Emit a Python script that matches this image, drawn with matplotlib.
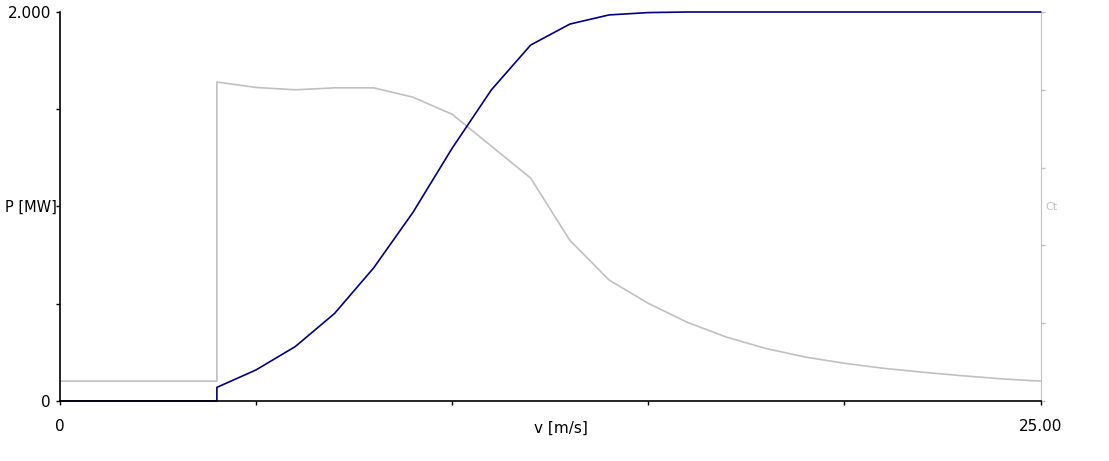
import matplotlib.pyplot as plt

# wind speed [m/s]
wind_speed = [0, 1, 2, 3, 4, 4, 5, 6, 7, 8, 9, 10, 11, 12, 13, 14, 15, 16, 17,
              18, 19, 20, 21, 22, 23, 24, 25]
# power [kW]
power = [0, 0, 0, 0, 0, 70, 160, 280, 450, 685, 970, 1300, 1600, 1830, 1938,
         1985, 1997, 2000, 2000, 2000, 2000, 2000, 2000, 2000, 2000, 2000, 2000]
# thrust coefficient
ct = [0.051, 0.051, 0.051, 0.051, 0.051, 0.82, 0.806, 0.80, 0.805, 0.805,
      0.781, 0.737, 0.655, 0.573, 0.413, 0.311, 0.251, 0.202, 0.164, 0.135,
      0.113, 0.097, 0.084, 0.074, 0.065, 0.057, 0.051]

W, H = 1109, 461
fig = plt.figure(figsize=(W / 100, H / 100), dpi=100)
ax = fig.add_axes([60 / W, (H - 401) / H, (1040.5 - 60) / W, 389 / H])
ax2 = ax.twinx()
ax.set_zorder(ax2.get_zorder() + 1)
ax.patch.set_visible(False)

grey = '#c0c0c0'
navy = '#000080'

ax2.plot(wind_speed, ct, color=grey, lw=1.2)
ax.plot(wind_speed, power, color=navy, lw=1.2, clip_on=False)

ax.set_xlim(0, 25)
ax.set_ylim(0, 2000)
ax2.set_ylim(0, 1)

ax.set_xticks([0, 5, 10, 15, 20, 25])
ax.set_xticklabels(['0', '', '', '', '', '25.00'])
ax.set_yticks([0, 500, 1000, 1500, 2000])
ax.set_yticklabels(['0', '', '', '', '2.000'])
ax.tick_params(axis='both', length=3, width=1, colors='black', labelsize=11)
ax.tick_params(axis='x', pad=10)

# y axis title sits right at the middle tick
ax.text(57 / W, (H - 207) / H, 'P [MW]', transform=fig.transFigure,
        fontsize=10.5, ha='right', va='center')

ax2.set_yticks([0, 0.2, 0.4, 0.6, 0.8, 1.0])
ax2.set_yticklabels([])
ax2.tick_params(axis='y', length=3, width=1, colors=grey)
ax2.text(1.005, 0.5, 'Ct', transform=ax2.transAxes, color=grey, fontsize=8,
         va='center', ha='left')

ax.text(0.511, -0.07, 'v [m/s]', transform=ax.transAxes, fontsize=11,
        ha='center', va='center')

for a in (ax, ax2):
    a.spines['top'].set_visible(False)
ax.spines['right'].set_visible(False)
ax2.spines['left'].set_visible(False)
ax2.spines['bottom'].set_visible(False)
ax2.spines['right'].set_color(grey)
ax.spines['left'].set_linewidth(1.2)
ax.spines['bottom'].set_linewidth(1.2)

fig.savefig('out.png', dpi=100)
